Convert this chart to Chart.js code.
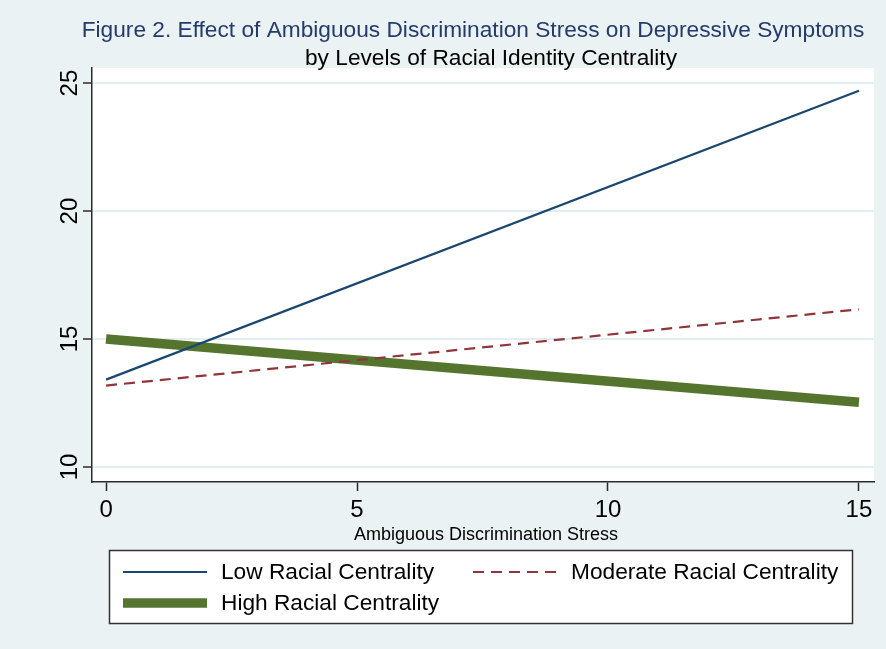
<!DOCTYPE html>
<html>
<head>
<meta charset="utf-8">
<script src="https://cdn.jsdelivr.net/npm/chart.js@4.4.1/dist/chart.umd.min.js"></script>
<style>
  html, body { margin: 0; padding: 0; background: #eaf2f3; }
  #wrap { width: 886px; height: 649px; }
</style>
</head>
<body>
<div id="wrap"><canvas id="c" width="886" height="649"></canvas></div>
<script>
// Texts
const titleText = 'Figure 2. Effect of Ambiguous Discrimination Stress on Depressive Symptoms';
const subtitleText = 'by Levels of Racial Identity Centrality';
const xAxisTitle = 'Ambiguous Discrimination Stress';
const seriesNames = ['Low Racial Centrality', 'Moderate Racial Centrality', 'High Racial Centrality'];

// Predicted depressive symptoms at the ends of the stress range
const stress = [0, 15];
const lowCentrality = [13.41, 24.70];
const moderateCentrality = [13.18, 16.16];
const highCentrality = [15.00, 12.53];

// Axis ticks
const xTickValues = [0, 5, 10, 15];
const yTickValues = [10, 15, 20, 25];

const FONT = '"Liberation Sans", Arial, sans-serif';
const BG = '#eaf2f3';
const AXIS = '#2b2b2b';

function points(ys) {
  return stress.map((x, i) => ({ x: x, y: ys[i] }));
}

const chrome = {
  id: 'chrome',
  beforeDraw(chart) {
    const { ctx, chartArea: a } = chart;
    ctx.save();
    ctx.fillStyle = BG;
    ctx.fillRect(0, 0, chart.width, chart.height);
    ctx.fillStyle = '#ffffff';
    ctx.fillRect(a.left, a.top, a.right - a.left, a.bottom - a.top);
    ctx.restore();
  },
  afterDraw(chart) {
    const { ctx } = chart;
    const ys = chart.scales.y;
    ctx.save();

    // Titles
    ctx.textAlign = 'center';
    ctx.textBaseline = 'alphabetic';
    ctx.font = '22.7px ' + FONT;
    ctx.fillStyle = '#243b6b';
    ctx.fillText(titleText, 473, 37);
    ctx.fillStyle = '#000000';
    ctx.fillText(subtitleText, 491, 65);

    // Rotated y tick labels
    ctx.font = '24px ' + FONT;
    ctx.fillStyle = '#000000';
    yTickValues.forEach(v => {
      ctx.save();
      ctx.translate(70, ys.getPixelForValue(v));
      ctx.rotate(-Math.PI / 2);
      ctx.textAlign = 'center';
      ctx.textBaseline = 'middle';
      ctx.fillText(String(v), 0, 0);
      ctx.restore();
    });

    // X axis title
    ctx.font = '18px ' + FONT;
    ctx.textAlign = 'center';
    ctx.textBaseline = 'middle';
    ctx.fillText(xAxisTitle, 486, 535);

    // Legend box
    const bx = 109.5, by = 550.5, bw = 743, bh = 73;
    ctx.fillStyle = '#ffffff';
    ctx.fillRect(bx, by, bw, bh);
    ctx.strokeStyle = '#333333';
    ctx.lineWidth = 1.5;
    ctx.strokeRect(bx, by, bw, bh);

    const slots = [
      { x: 123, y: 572 },
      { x: 473, y: 572 },
      { x: 123, y: 603 }
    ];
    ctx.font = '22.7px ' + FONT;
    ctx.textAlign = 'left';
    ctx.textBaseline = 'middle';
    chart.data.datasets.forEach((ds, i) => {
      const s = slots[i];
      ctx.save();
      ctx.strokeStyle = ds.borderColor;
      ctx.lineWidth = ds.borderWidth;
      ctx.lineCap = 'butt';
      ctx.setLineDash(ds.borderDash || []);
      ctx.beginPath();
      ctx.moveTo(s.x, s.y);
      ctx.lineTo(s.x + 84, s.y);
      ctx.stroke();
      ctx.restore();
      ctx.fillStyle = '#000000';
      ctx.fillText(ds.label, s.x + 98, s.y + 1);
    });

    ctx.restore();
  }
};

new Chart(document.getElementById('c'), {
  type: 'line',
  data: {
    datasets: [
      {
        label: seriesNames[0],
        data: points(lowCentrality),
        borderColor: '#1a476f',
        borderWidth: 2.2,
        pointRadius: 0,
        borderCapStyle: 'butt'
      },
      {
        label: seriesNames[1],
        data: points(moderateCentrality),
        borderColor: '#90353b',
        borderWidth: 2.2,
        borderDash: [11, 7],
        pointRadius: 0,
        borderCapStyle: 'butt'
      },
      {
        label: seriesNames[2],
        data: points(highCentrality),
        borderColor: '#55752f',
        borderWidth: 9.5,
        pointRadius: 0,
        borderCapStyle: 'butt'
      }
    ]
  },
  options: {
    responsive: false,
    animation: false,
    devicePixelRatio: 1,
    layout: { padding: { top: 68, right: 12, left: 0, bottom: 0 } },
    plugins: {
      legend: { display: false },
      title: { display: false },
      tooltip: { enabled: false }
    },
    scales: {
      x: {
        type: 'linear',
        min: -0.28,
        max: 15.3,
        afterBuildTicks: s => { s.ticks = xTickValues.map(v => ({ value: v })); },
        afterFit: s => { s.height = 649 - 482; },
        grid: { drawOnChartArea: false, tickColor: AXIS, tickLength: 9, tickWidth: 1.5 },
        border: { color: AXIS, width: 1.5 },
        ticks: {
          color: '#000000',
          font: { family: FONT, size: 24 },
          padding: 5,
          maxRotation: 0,
          autoSkip: false
        }
      },
      y: {
        type: 'linear',
        min: 9.41,
        max: 25.59,
        afterBuildTicks: s => { s.ticks = yTickValues.map(v => ({ value: v })); },
        afterFit: s => { s.width = 92; },
        grid: { color: '#e4eef0', lineWidth: 2, tickColor: AXIS, tickLength: 9, tickWidth: 1.5 },
        border: { color: AXIS, width: 1.5 },
        ticks: { display: false }
      }
    }
  },
  plugins: [chrome]
});
</script>
</body>
</html>
